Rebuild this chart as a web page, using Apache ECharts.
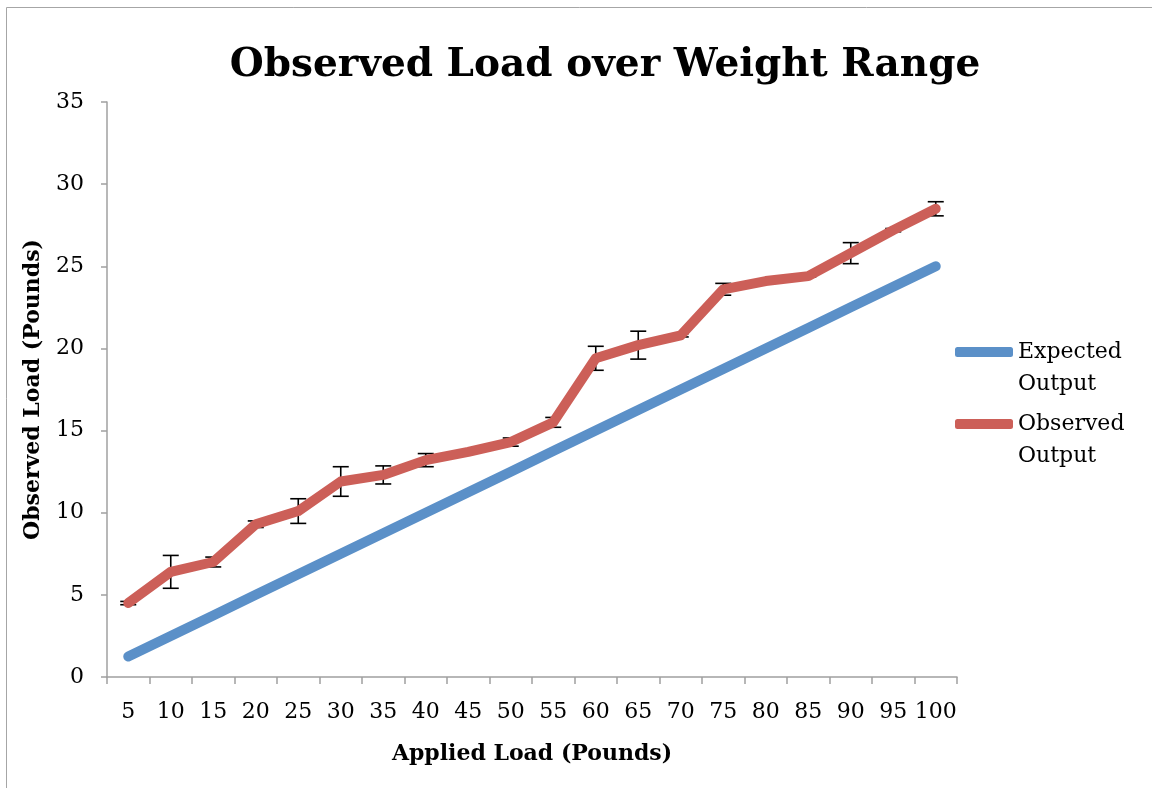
<!DOCTYPE html>
<html>
<head>
<meta charset="utf-8">
<title>Observed Load over Weight Range</title>
<script src="https://cdn.jsdelivr.net/npm/echarts@6/dist/echarts.min.js"></script>
<style>
  html, body { margin: 0; padding: 0; background: #fff; }
  #chart { width: 1152px; height: 788px; }
</style>
</head>
<body>
<div id="chart"></div>
<script>
// applied load categories (pounds)
const loads = ["5", "10", "15", "20", "25", "30", "35", "40", "45", "50",
  "55", "60", "65", "70", "75", "80", "85", "90", "95", "100"];
// expected output
const expected = [1.25, 2.5, 3.75, 5, 6.25, 7.5, 8.75, 10, 11.25, 12.5,
  13.75, 15, 16.25, 17.5, 18.75, 20, 21.25, 22.5, 23.75, 25];
// observed output (means)
const observed = [4.5, 6.4, 7.0, 9.3, 10.1, 11.9, 12.3, 13.2, 13.7, 14.3,
  15.5, 19.4, 20.2, 20.8, 23.6, 24.1, 24.4, 25.8, 27.2, 28.5];
// error bar half widths
const errors = [0.1, 1.0, 0.3, 0.2, 0.75, 0.9, 0.55, 0.4, 0.05, 0.25,
  0.3, 0.73, 0.85, 0.1, 0.36, 0.05, 0.05, 0.64, 0.1, 0.43];
const yTicks = [0, 5, 10, 15, 20, 25, 30, 35];

const serif = "DejaVu Serif";
const blue = "#5B90C8";
const red = "#CC5F58";
const errData = observed.map((v, i) => [i, v - errors[i], v + errors[i]]);

const chart = echarts.init(document.getElementById("chart"));
chart.setOption({
  animation: false,
  graphic: [{
    type: "rect",
    shape: { x: 6.5, y: 7.5, width: 1200, height: 900 },
    style: { fill: "none", stroke: "#a6a6a6", lineWidth: 1 },
    silent: true
  }],
  title: {
    text: "Observed Load over Weight Range",
    left: 600, top: 41, textAlign: "center",
    textStyle: { fontFamily: serif, fontWeight: "bold", fontSize: 39, color: "#000" }
  },
  legend: {
    data: ["Expected Output", "Observed Output"],
    orient: "vertical",
    left: 950, top: 299,
    itemWidth: 58, itemHeight: 10, itemGap: -24,
    icon: "roundRect",
    // blank first line keeps the swatch level with the first text line
    formatter: (n) => " \n" + n.replace(" ", "\n"),
    textStyle: { fontFamily: serif, fontSize: 22, color: "#000", lineHeight: 32 },
    selectedMode: false
  },
  grid: { left: 107, right: 195, top: 102, bottom: 111 },
  xAxis: {
    type: "category",
    data: loads,
    boundaryGap: true,
    name: "Applied Load (Pounds)",
    nameLocation: "middle",
    nameGap: 66,
    nameTextStyle: { fontFamily: serif, fontWeight: "bold", fontSize: 22, color: "#000" },
    axisLine: { lineStyle: { color: "#a0a0a0", width: 1.5 } },
    axisTick: { show: true, length: 7, alignWithLabel: false, lineStyle: { color: "#a0a0a0", width: 1.5 } },
    axisLabel: { fontFamily: serif, fontSize: 22, color: "#000", margin: 24, interval: 0 }
  },
  yAxis: {
    type: "value",
    min: yTicks[0], max: yTicks[yTicks.length - 1], interval: 5,
    name: "Observed Load (Pounds)",
    nameLocation: "middle",
    nameGap: 63,
    nameTextStyle: { fontFamily: serif, fontWeight: "bold", fontSize: 22, color: "#000" },
    axisLine: { show: true, lineStyle: { color: "#a0a0a0", width: 1.5 } },
    axisTick: { show: true, length: 6, lineStyle: { color: "#a0a0a0", width: 1.5 } },
    splitLine: { show: false },
    axisLabel: { fontFamily: serif, fontSize: 22, color: "#000", margin: 23 }
  },
  series: [
    {
      name: "errors",
      type: "custom",
      z: 1,
      data: errData,
      renderItem: (params, api) => {
        const lo = api.coord([api.value(0), api.value(1)]);
        const hi = api.coord([api.value(0), api.value(2)]);
        const w = 8;
        const style = { stroke: "#000", lineWidth: 1.6 };
        return {
          type: "group",
          children: [
            { type: "line", shape: { x1: lo[0], y1: lo[1], x2: hi[0], y2: hi[1] }, style },
            { type: "line", shape: { x1: lo[0] - w, y1: lo[1], x2: lo[0] + w, y2: lo[1] }, style },
            { type: "line", shape: { x1: hi[0] - w, y1: hi[1], x2: hi[0] + w, y2: hi[1] }, style }
          ]
        };
      }
    },
    {
      name: "Expected Output",
      type: "line",
      z: 3,
      data: expected,
      showSymbol: false,
      itemStyle: { color: blue },
      lineStyle: { color: blue, width: 10, cap: "round", join: "round" }
    },
    {
      name: "Observed Output",
      type: "line",
      z: 3,
      data: observed,
      showSymbol: false,
      itemStyle: { color: red },
      lineStyle: { color: red, width: 10, cap: "round", join: "round" }
    }
  ]
});
</script>
</body>
</html>
